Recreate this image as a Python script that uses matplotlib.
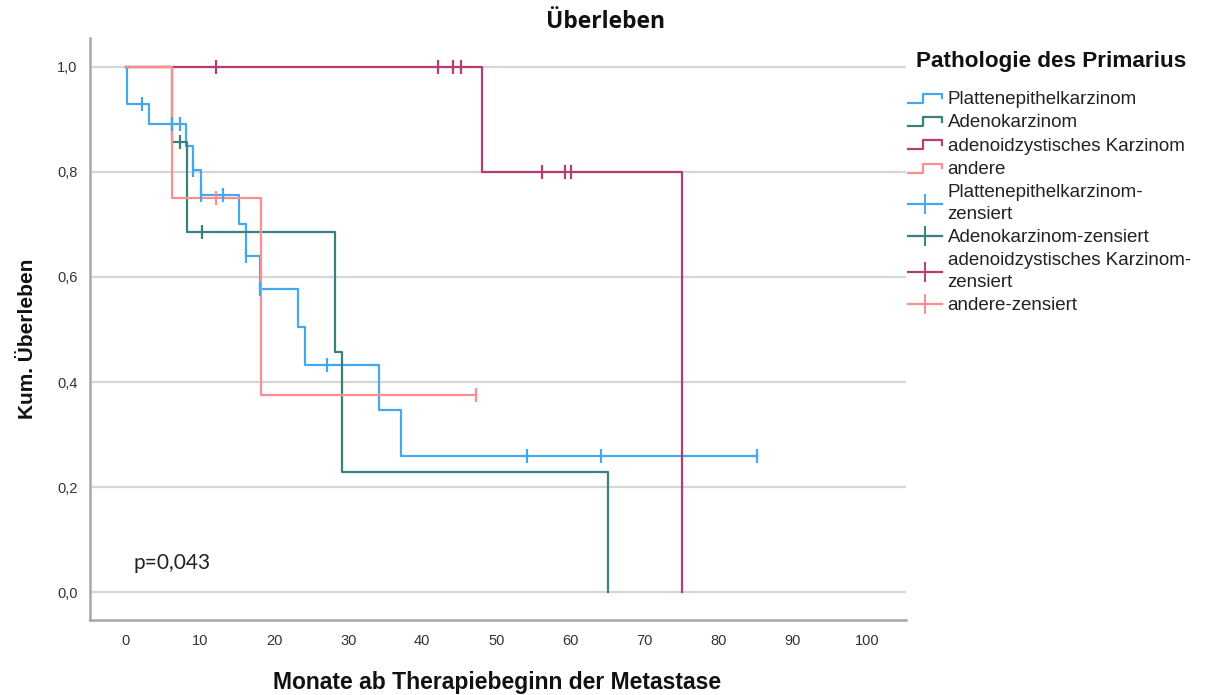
import numpy as np
import matplotlib
matplotlib.use("Agg")
import matplotlib.pyplot as plt
from matplotlib.lines import Line2D
from matplotlib.legend_handler import HandlerBase

# Kaplan-Meier step curves per group: event times (months) and survival after each step
pe_times = [0, 0.1, 3.1, 8.1, 9.1, 10.1, 15.2, 16.2, 18.1, 23.2, 24.2, 34.1, 37.1]
pe_surv = [1.0, 0.929, 0.891, 0.850, 0.803, 0.756, 0.700, 0.640, 0.577, 0.504, 0.432, 0.346, 0.260]
pe_end = 85.2
pe_censored = [2.1, 6.2, 7.3, 9.1, 10.1, 13.1, 16.2, 18.1, 27.2, 54.1, 64.1, 85.2]

ad_times = [0, 6.2, 8.2, 28.2, 29.2, 65.1]
ad_surv = [1.0, 0.857, 0.686, 0.457, 0.229, 0.0]
ad_end = 65.1
ad_censored = [7.3, 10.2]

acc_times = [0, 48.1, 75.1]
acc_surv = [1.0, 0.8, 0.0]
acc_end = 75.1
acc_censored = [12.1, 42.1, 44.2, 45.2, 56.2, 59.2, 60.1]

oth_times = [0, 6.2, 18.2]
oth_surv = [1.0, 0.75, 0.375]
oth_end = 47.2
oth_censored = [12.1, 47.2]

group_names = ["Plattenepithelkarzinom", "Adenokarzinom",
               "adenoidzystisches Karzinom", "andere"]
censor_names = ["Plattenepithelkarzinom-\nzensiert", "Adenokarzinom-zensiert",
                "adenoidzystisches Karzinom-\nzensiert", "andere-zensiert"]
colors = ["#44A8EE", "#3A817C", "#B53D72", "#FF8C8F"]

x_ticks = [0, 10, 20, 30, 40, 50, 60, 70, 80, 90, 100]
y_ticks = [0.0, 0.2, 0.4, 0.6, 0.8, 1.0]
y_ticklabels = ["0,0", "0,2", "0,4", "0,6", "0,8", "1,0"]

title = "Überleben"
x_label = "Monate ab Therapiebeginn der Metastase"
y_label = "Kum. Überleben"
legend_title = "Pathologie des Primarius"
p_text = "p=0,043"

groups = [
    (pe_times, pe_surv, pe_end, pe_censored),
    (ad_times, ad_surv, ad_end, ad_censored),
    (acc_times, acc_surv, acc_end, acc_censored),
    (oth_times, oth_surv, oth_end, oth_censored),
]

plt.rcParams["font.family"] = ["Liberation Sans", "DejaVu Sans"]

W, H = 1205, 695
fig = plt.figure(figsize=(W / 100, H / 100), dpi=100)
ax = fig.add_axes([90 / W, 1 - 620 / H, (906 - 90) / W, (620 - 38) / H])

ax.set_xlim(-4.86, 105.3)
ax.set_ylim(-0.053, 1.055)

for y in y_ticks:
    ax.axhline(y, color="#D6D6D6", lw=1.6, zorder=0)

lw = 1.6
step_handles = []
censor_handles = []
for (t, s, end, cens), c in zip(groups, colors):
    xs = list(t) + [end]
    ys = list(s) + [s[-1]]
    line, = ax.step(xs, ys, where="post", color=c, lw=lw, zorder=2)
    step_handles.append(line)
    idx = np.searchsorted(t, cens, side="right") - 1
    cy = np.asarray(s)[idx]
    ax.plot(cens, cy, linestyle="none", marker="|", markersize=10,
            markeredgewidth=1.6, color=c, zorder=3)
    censor_handles.append(Line2D([], [], color=c, lw=lw, marker="|",
                                 markersize=15, markeredgewidth=1.4))

for side in ["top", "right"]:
    ax.spines[side].set_visible(False)
for side in ["left", "bottom"]:
    ax.spines[side].set_color("#A8A8A8")
    ax.spines[side].set_linewidth(1.8)

ax.set_xticks(x_ticks)
ax.set_xticklabels([str(v) for v in x_ticks])
ax.set_yticks(y_ticks)
ax.set_yticklabels(y_ticklabels)
ax.tick_params(length=0, labelsize=10.5, colors="#333333")
ax.tick_params(axis="x", pad=10)
ax.tick_params(axis="y", pad=9)

ax.set_xlabel(x_label, fontsize=16.5, fontweight="bold", va="center", color="#111111")
ax.xaxis.set_label_coords(0.499, -0.108)
ax.set_ylabel(y_label, fontsize=15, fontweight="bold", va="center", color="#111111")
ax.yaxis.set_label_coords(-0.076, 0.483)

fig.text(606 / W, 1 - 22 / H, title, ha="center", va="center",
         fontsize=16.5, fontweight="bold", family=["Open Sans", "DejaVu Sans"],
         color="#111111")

ax.text(0.0527, 0.098, p_text, transform=ax.transAxes, ha="left", va="center",
        fontsize=15, family=["Lato", "DejaVu Sans"], color="#222222")


class HandlerStep(HandlerBase):
    def create_artists(self, legend, orig_handle, xdescent, ydescent,
                       width, height, fontsize, trans):
        fx = np.array([0.0, 0.45, 0.45, 1.0, 1.0])
        fy = np.array([0.1, 0.1, 0.8, 0.8, 0.45])
        ln = Line2D(fx * width - xdescent, fy * height - ydescent,
                    color=orig_handle.get_color(), lw=orig_handle.get_linewidth())
        ln.set_transform(trans)
        return [ln]


# legend heading
fig.text(916 / W, 1 - 61 / H, legend_title, ha="left", va="center",
         fontsize=16.2, fontweight="bold", color="#111111")

handler_map = {h: HandlerStep() for h in step_handles}
leg = fig.legend(step_handles + censor_handles, group_names + censor_names,
                 handler_map=handler_map, loc="upper left",
                 bbox_to_anchor=(908 / W, 1 - 91 / H), frameon=False,
                 fontsize=13.5, handlelength=1.8, handletextpad=0.32,
                 labelspacing=0.33, borderpad=0, borderaxespad=0)
for txt in leg.get_texts():
    txt.set_color("#222222")
    txt.set_linespacing(1.36)

fig.savefig("out.png", dpi=100)
